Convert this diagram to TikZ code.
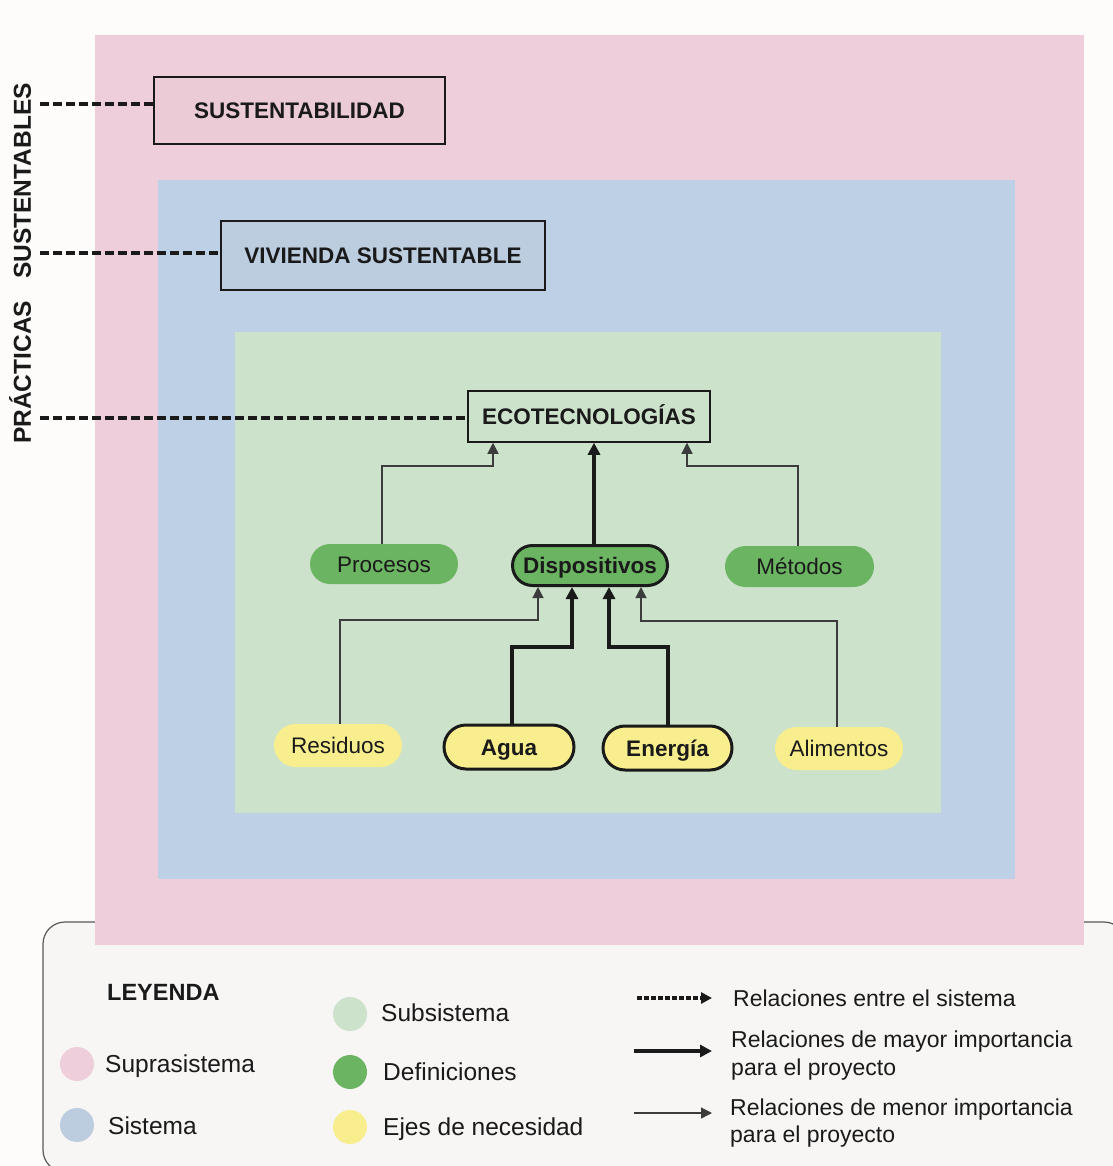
\documentclass[tikz,border=0pt]{standalone}
\usepackage{fontspec}
\setmainfont{Liberation Sans}
\usetikzlibrary{arrows.meta,shapes.misc,calc}
\definecolor{bgc}{HTML}{FDFCFB}
\definecolor{legc}{HTML}{F7F6F5}
\definecolor{pinkc}{HTML}{EFCEDB}
\definecolor{pinkbox}{HTML}{EBCBD6}
\definecolor{bluec}{HTML}{BED0E6}
\definecolor{bluebox}{HTML}{BCCDE0}
\definecolor{greenc}{HTML}{CCE2CB}
\definecolor{defc}{HTML}{6BB462}
\definecolor{yelc}{HTML}{F8EE8E}
\definecolor{inkc}{HTML}{1A1A1A}
\definecolor{thinc}{HTML}{3C3C3C}
\tikzset{
  x=1pt, y=-1pt,
  every node/.style={text=inkc},
  titlebox/.style={draw=inkc, line width=1.5pt, inner sep=0pt, text height=16.1pt, text depth=0pt, font=\fontsize{22.5}{27}\selectfont\bfseries},
  pill/.style={rounded rectangle, inner sep=0pt, text height=16.1pt, text depth=0pt, font=\fontsize{22.5}{27}\selectfont},
  pillbold/.style={pill, draw=inkc, line width=3pt, font=\fontsize{22.5}{27}\selectfont\bfseries},
  dashline/.style={line width=3.2pt, dash pattern=on 9pt off 4pt, draw=inkc},
  thinarr/.style={draw=thinc, line width=1.2pt, -{Triangle[width=11pt,length=11pt]}},
  thickarr/.style={draw=inkc, line width=3.5pt, -{Triangle[width=12pt,length=12pt]}},
  legtext/.style={anchor=west, inner sep=0pt, text height=17.5pt, text depth=0pt, font=\fontsize{24.5}{29}\selectfont},
  legtextr/.style={anchor=west, inner sep=0pt, align=left, font=\fontsize{23}{27.5}\selectfont},
  dot/.style={circle, minimum size=34pt, inner sep=0pt}
}
\begin{document}
\begin{tikzpicture}
\useasboundingbox (0,0) rectangle (1112,1166);
\fill[bgc] (0,0) rectangle (1112,1166);
% legend box
\draw[draw=black!65, line width=1.2pt, fill=legc, rounded corners=22pt] (43,922) rectangle (1126,1172);
% nested systems
\fill[pinkc] (95,35) rectangle (1084,945);
\fill[bluec] (158,180) rectangle (1015,879);
\fill[greenc] (235,332) rectangle (941,813);

% title boxes
\node[titlebox, fill=pinkbox, minimum width=291pt, minimum height=67pt] (sust) at (299.5,110.5) {SUSTENTABILIDAD};
\node[titlebox, fill=bluebox, minimum width=324pt, minimum height=69pt] (viv) at (383,255.5) {VIVIENDA SUSTENTABLE};
\node[titlebox, fill=greenc, minimum width=242pt, minimum height=51pt] (eco) at (589,416.5) {ECOTECNOLOGÍAS};

% vertical label
\node[rotate=90, inner sep=0pt, font=\fontsize{24.5}{29}\selectfont\bfseries, text height=17.5pt, text depth=0pt] (prac) at (22,263.5) {PRÁCTICAS\hspace{22pt}SUSTENTABLES};

% dashed relations
\coordinate (d1) at (40,104);
\coordinate (d2) at (40,253);
\coordinate (d3) at (40,418);
\draw[dashline] (d1) -- (d1 -| sust.west);
\draw[dashline] (d2) -- (d2 -| viv.west);
\draw[dashline] (d3) -- (d3 -| eco.west);

% definitions
\node[pill, fill=defc, minimum width=148pt, minimum height=40pt] (proc) at (384,564) {Procesos};
\node[pillbold, fill=defc, minimum width=155pt, minimum height=40pt] (disp) at (590,565.5) {Dispositivos};
\node[pill, fill=defc, minimum width=149pt, minimum height=41pt] (met) at (799.5,566.5) {Métodos};

% needs
\node[pill, fill=yelc, minimum width=128pt, minimum height=43pt] (res) at (338,745.5) {Residuos};
\node[pillbold, fill=yelc, minimum width=130pt, minimum height=44pt] (agua) at (509,747) {Agua};
\node[pillbold, fill=yelc, minimum width=129pt, minimum height=44pt] (ener) at (667.5,748) {Energía};
\node[pill, fill=yelc, minimum width=128pt, minimum height=43pt] (ali) at (839,748.5) {Alimentos};

% connectors to ECOTECNOLOGIAS
\coordinate (pe) at (493,466);
\coordinate (me) at (687,466);
\draw[thinarr] ([xshift=-2pt]proc.north) |- (pe) -- (pe |- eco.south);
\draw[thickarr] ([xshift=4pt]disp.north) -- ([xshift=4pt]disp.north |- eco.south);
\draw[thinarr] ([xshift=-1.5pt]met.north) |- (me) -- (me |- eco.south);

% connectors to Dispositivos
\coordinate (rd) at (538,620);
\coordinate (ad) at (572,647);
\coordinate (ed) at (609,647);
\coordinate (ld) at (641,621);
\draw[thinarr] ([xshift=2pt]res.north) |- (rd) -- (rd |- disp.south);
\draw[thickarr] ([xshift=3pt]agua.north) |- (ad) -- (ad |- disp.south);
\draw[thickarr] ([xshift=0.5pt]ener.north) |- (ed) -- (ed |- disp.south);
\draw[thinarr] ([xshift=-2pt]ali.north) |- (ld) -- (ld |- disp.south);

% legend
\node[anchor=west, inner sep=0pt, text height=17pt, text depth=0pt, font=\fontsize{23.5}{28}\selectfont\bfseries] (ley) at (107,992) {LEYENDA};
\node[dot, fill=pinkc] (c1) at (77,1064) {};
\node[dot, fill=bluebox] (c2) at (77,1125) {};
\node[dot, fill=greenc] (c3) at (350,1014) {};
\node[dot, fill=defc] (c4) at (350,1072) {};
\node[dot, fill=yelc] (c5) at (350,1127) {};
\node[legtext] (t1) at (105,1064) {Suprasistema};
\node[legtext] (t2) at (108,1126) {Sistema};
\node[legtext] (t3) at (381,1013) {Subsistema};
\node[legtext] (t4) at (383,1072) {Definiciones};
\node[legtext] (t5) at (383,1127) {Ejes de necesidad};

\coordinate (la1) at (637,998);
\coordinate (lb1) at (712,998);
\coordinate (la2) at (634,1051);
\coordinate (lb2) at (712,1051);
\coordinate (la3) at (634,1113);
\coordinate (lb3) at (712,1113);
\draw[draw=inkc, line width=4pt, dash pattern=on 5pt off 2pt, -{Triangle[width=11pt,length=11pt]}] (la1) -- (lb1);
\draw[thickarr, -{Triangle[width=12pt,length=12pt]}] (la2) -- (lb2);
\draw[draw=thinc, line width=1.2pt, -{Triangle[width=11pt,length=11pt]}] (la3) -- (lb3);
\node[anchor=west, inner sep=0pt, text height=16.5pt, text depth=0pt, font=\fontsize{23}{27.5}\selectfont] (r1) at (733,998) {Relaciones entre el sistema};
\node[legtextr] (r2) at (731,1055.5) {Relaciones de mayor importancia\\para el proyecto};
\node[legtextr] (r3) at (730,1123) {Relaciones de menor importancia\\para el proyecto};
\end{tikzpicture}
\end{document}
